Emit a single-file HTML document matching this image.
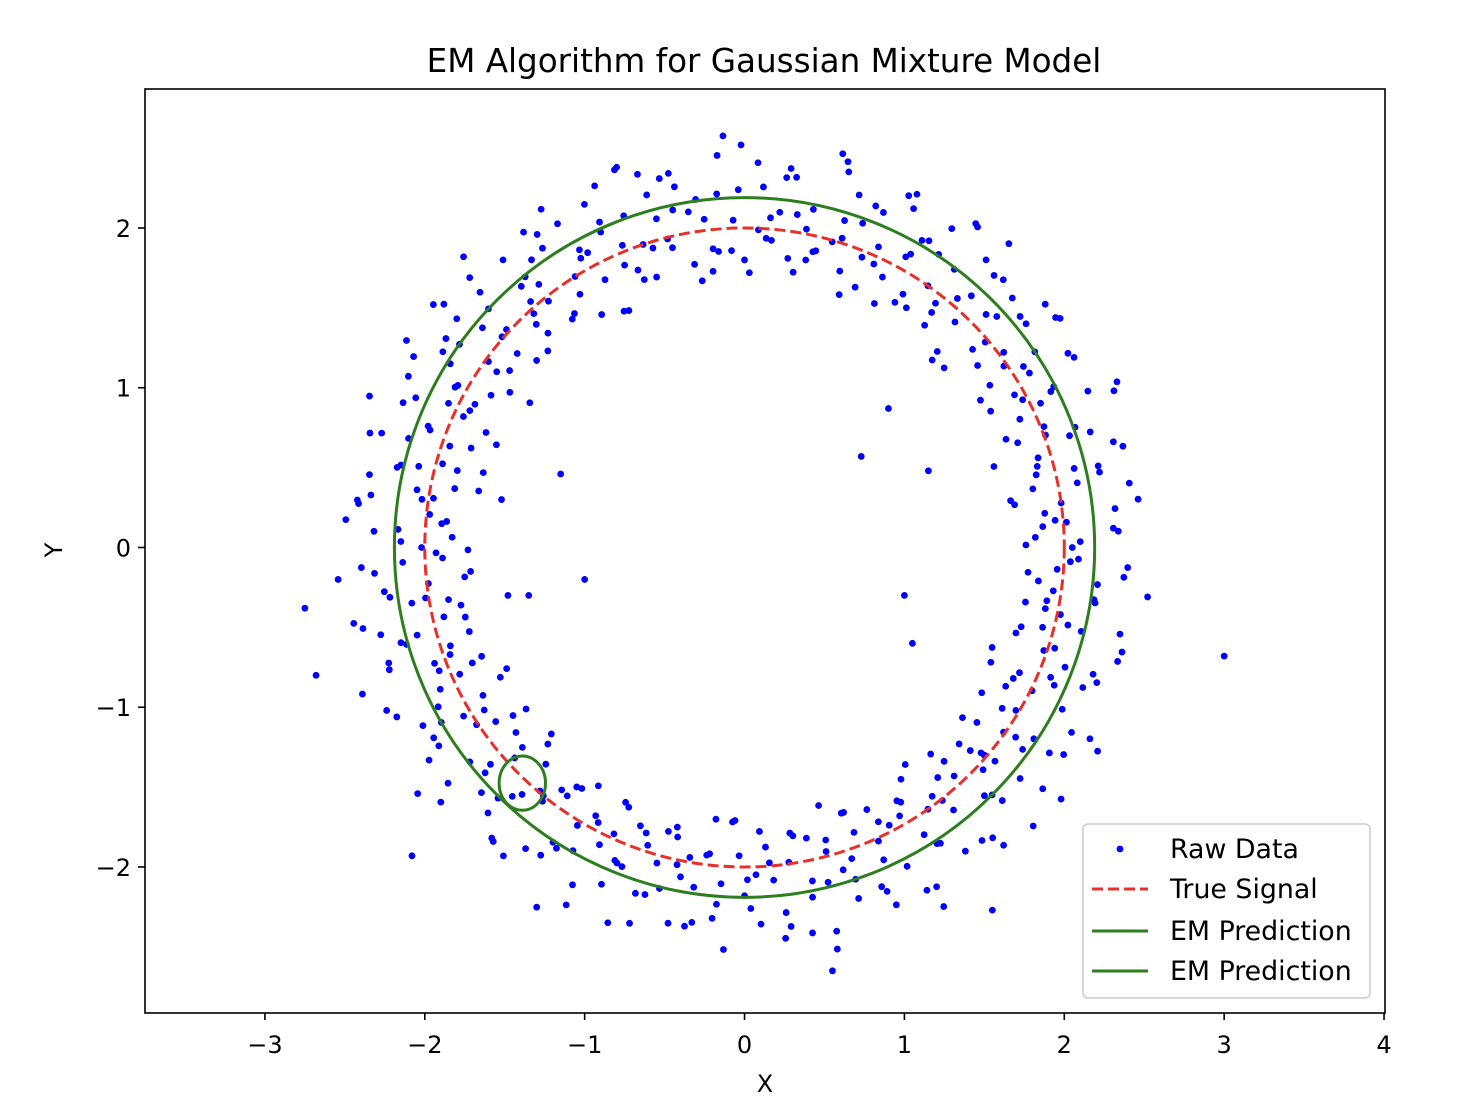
<!DOCTYPE html>
<html><head><meta charset="utf-8"><style>
html,body{margin:0;padding:0;background:#fff;}
svg text{font-family:"DejaVu Sans","Liberation Sans",sans-serif;fill:#000;}
</style></head><body>
<svg id="chart" width="1460" height="1112" viewBox="0 0 1460 1112" xmlns="http://www.w3.org/2000/svg">
<rect x="0" y="0" width="1460" height="1112" fill="#fff"/>
<text x="764" y="72" font-size="32.6" text-anchor="middle">EM Algorithm for Gaussian Mixture Model</text>
<g id="plot"></g>
<text x="765" y="1092" font-size="24" text-anchor="middle">X</text>
<text x="62" y="550" font-size="24" text-anchor="middle" transform="rotate(-90 62 550)">Y</text>
</svg>
<script>
const xTicks=[-3,-2,-1,0,1,2,3,4];
const yTicks=[-2,-1,0,1,2];
const rawAngles=[0,2,3,5,7,9,11,13,14,16,18,20,22,24,25,27,29,31,33,35,36,38,40,42,44,46,47,49,51,53,55,57,58,60,62,64,66,68,69,71,73,75,77,79,80,82,84,86,88,90,91,93,95,97,99,101,102,104,106,108,110,112,113,115,117,119,121,123,124,126,128,130,132,134,135,137,139,141,143,145,146,148,150,152,154,156,157,159,161,163,165,167,168,170,172,174,176,178,179,181,183,185,187,189,190,192,194,196,198,200,201,203,205,207,209,211,212,214,216,218,220,222,223,225,227,229,231,233,234,236,238,240,242,244,245,247,249,251,253,255,256,258,260,262,264,266,267,269,271,273,275,277,278,280,282,284,286,288,289,291,293,295,297,299,300,302,304,306,308,310,311,313,315,317,319,321,322,324,326,328,330,332,333,335,337,339,341,343,344,346,348,350,352,354,355,357,
1,4,6,8,10,12,15,17,19,21,23,26,28,30,32,34,37,39,41,43,45,48,50,52,54,56,59,61,63,65,67,70,72,74,76,78,81,83,85,87,89,92,94,96,98,100,103,105,107,109,111,114,116,118,120,122,125,127,129,131,133,136,138,140,142,144,147,149,151,153,155,158,160,162,164,166,169,171,173,175,177,180,182,184,186,188,191,193,195,197,199,202,204,206,208,210,213,215,217,219,221,224,226,228,230,232,235,237,239,241,243,246,248,250,252,254,257,259,261,263,265,268,270,272,274,276,279,281,283,285,287,290,292,294,296,298,301,303,305,307,309,312,314,316,318,320,323,325,327,329,331,334,336,338,340,342,345,347,349,351,353,356,358,
0.5,2.5,4.5,6.5,9.5,11.5,13.5,15.5,18.5,20.5,22.5,24.5,27.5,29.5,31.5,33.5,36.5,38.5,40.5,42.5,45.5,47.5,49.5,51.5,54.5,56.5,58.5,60.5,63.5,65.5,67.5,69.5,72.5,74.5,76.5,78.5,81.5,83.5,85.5,87.5,90.5,92.5,94.5,96.5,99.5,101.5,103.5,105.5,108.5,110.5,112.5,114.5,117.5,119.5,121.5,123.5,126.5,128.5,130.5,132.5,135.5,137.5,139.5,141.5,144.5,146.5,148.5,150.5,153.5,155.5,157.5,159.5,162.5,164.5,166.5,168.5,171.5,173.5,175.5,177.5,180.5,182.5,184.5,186.5,189.5,191.5,193.5,195.5,198.5,200.5,202.5,204.5,207.5,209.5,211.5,213.5,216.5,218.5,220.5,222.5,225.5,227.5,229.5,231.5,234.5,236.5,238.5,240.5,243.5,245.5,247.5,249.5,252.5,254.5,256.5,258.5,261.5,263.5,265.5,267.5,270.5,272.5,274.5,276.5,279.5,281.5,283.5,285.5,288.5,290.5,292.5,294.5,297.5,299.5,301.5,303.5,306.5,308.5,310.5,312.5,315.5,317.5,319.5,321.5,324.5,326.5,328.5,330.5,333.5,335.5,337.5,339.5,342.5,344.5,346.5,348.5,351.5,353.5,355.5,357.5];
const rawRadii=[2.05,1.82,2.31,1.95,2.48,1.71,2.12,2.27,1.88,2.4,1.64,2.2,2.02,2.55,1.9,2.15,1.76,2.36,2.08,1.98,2.44,1.85,2.25,1.68,2.1,2.33,1.93,2.52,1.79,2.18,2.0,2.38,1.87,2.22,1.73,2.46,2.06,1.96,2.29,1.83,2.14,2.5,1.9,2.03,1.75,2.34,2.11,1.94,2.41,1.8,2.24,2.58,1.86,2.07,1.69,2.3,2.16,1.99,2.43,1.78,2.21,2.04,1.92,2.37,1.66,2.13,2.47,1.89,2.26,1.81,2.09,2.35,1.97,2.53,1.74,2.19,2.01,2.42,1.84,2.28,1.62,2.17,2.39,1.91,2.06,1.77,2.32,2.12,1.95,2.45,1.86,2.23,1.7,2.08,2.36,1.98,2.5,1.83,2.15,1.93,2.4,1.72,2.27,2.02,1.88,2.44,1.8,2.2,2.34,1.96,2.56,1.85,2.1,1.67,2.3,2.05,1.92,2.38,1.79,2.18,2.48,1.87,2.25,1.74,2.13,2.41,2.0,1.9,2.33,1.82,2.22,2.6,1.95,2.07,1.76,2.29,2.14,1.89,2.46,1.84,2.2,2.03,1.97,2.37,1.71,2.11,2.52,1.93,2.26,1.78,2.09,2.39,1.99,2.45,1.86,2.16,1.68,2.31,2.06,1.91,2.43,1.81,2.24,2.57,1.94,2.12,1.75,2.35,2.01,1.88,2.47,1.83,2.19,2.04,1.96,2.4,1.73,2.15,2.3,1.9,2.55,1.85,2.23,1.7,2.08,2.36,1.98,2.44,1.8,2.17,2.02,1.92,
1.95,2.22,1.78,2.4,2.1,1.87,2.33,2.0,1.69,2.27,2.45,1.92,2.15,1.83,2.51,2.06,1.97,2.38,1.74,2.19,2.03,2.42,1.89,2.29,1.66,2.12,2.35,1.94,2.48,1.81,2.24,2.08,1.9,2.43,1.77,2.16,2.32,1.99,2.54,1.84,2.11,2.39,1.93,2.26,1.72,2.05,2.46,1.88,2.2,1.8,2.37,2.13,1.96,2.5,1.86,2.23,1.65,2.09,2.34,2.0,2.41,1.79,2.18,2.04,1.91,2.3,1.75,2.14,2.47,1.98,2.25,1.85,2.07,2.36,1.94,2.53,1.82,2.21,1.7,2.1,2.39,1.97,2.44,1.87,2.17,2.02,1.89,2.32,1.76,2.24,2.49,1.93,2.12,1.8,2.35,2.06,1.95,2.42,1.73,2.19,2.28,1.9,2.56,1.84,2.15,1.68,2.31,2.08,1.99,2.45,1.83,2.2,2.03,1.92,2.37,1.78,2.13,2.5,1.96,2.26,1.86,2.1,2.4,1.94,2.33,1.71,2.18,2.05,1.88,2.46,1.81,2.23,2.58,1.97,2.11,1.77,2.29,2.14,1.91,2.43,1.85,2.21,2.0,1.95,2.36,1.74,2.16,2.51,1.9,2.25,1.82,2.07,2.38,1.98,2.47,1.87,2.12,1.67,2.32,2.04,1.93,2.41,1.79,2.22,2.54,1.96,2.09,1.76,2.34,2.02,1.89,2.44,1.84,
2.12,1.9,2.28,2.01,1.77,2.36,2.18,1.94,2.09,1.84,2.42,2.25,1.98,2.14,1.72,2.31,2.05,1.88,2.49,2.2,1.8,2.11,2.37,1.95,2.27,1.69,2.03,2.44,1.91,2.16,1.83,2.33,2.07,1.99,2.52,1.86,2.22,1.74,2.13,2.39,1.93,2.29,2.0,1.79,2.45,2.17,1.89,2.08,1.71,2.35,2.24,1.97,2.15,1.82,2.41,2.02,1.87,2.3,2.19,1.76,2.48,2.06,1.92,2.26,1.68,2.1,2.38,1.96,2.21,1.85,2.04,2.43,1.9,2.32,1.73,2.14,2.55,1.99,2.11,1.81,2.34,2.23,1.94,2.07,1.78,2.46,2.16,1.88,2.28,2.01,1.7,2.37,2.09,1.95,2.2,1.84,2.42,2.03,1.91,2.31,1.75,2.18,2.5,1.97,2.12,1.86,2.27,2.05,1.8,2.4,2.15,1.93,2.24,1.72,2.08,2.36,1.98,2.3,1.83,2.13,2.47,1.9,2.19,1.77,2.33,2.02,1.96,2.44,1.87,2.22,1.69,2.1,2.39,1.94,2.26,1.82,2.06,2.53,1.99,2.17,1.74,2.35,2.01,1.89,2.29,2.14,1.78,2.45,2.08,1.92,2.21,1.85,2.38,2.04,1.97,2.32,1.71,2.16,2.49,1.91,2.25,1.81,2.11,2.41,1.95];
const outlierX=[3.0,-2.75,-2.68,-1.0,0.73,0.9,1.0,-1.15,-1.52,-1.48,-1.35,1.55,-0.8,0.55,1.5,-2.08,1.15,-1.55,1.05];
const outlierY=[-0.68,-0.38,-0.8,-0.2,0.57,0.87,-0.3,0.46,0.3,-0.3,-0.3,-2.27,2.38,-2.65,-1.3,-1.93,0.48,1.1,-0.6];
const trueRadius=[2];
const emCenterX=[0,-1.39], emCenterY=[0,-1.475], emRx=[2.19,0.145], emRy=[2.19,0.17];
const X0=-3.75,X1=4.006,Y0=-2.914,Y1=2.87,L=145,R=1385,T=89,B=1013;
const sx=v=>L+(v-X0)/(X1-X0)*(R-L), sy=v=>B-(v-Y0)/(Y1-Y0)*(B-T);
const NS='http://www.w3.org/2000/svg';
const svg=document.getElementById('chart'), plot=document.getElementById('plot');
function mk(tag,attrs,parent){const e=document.createElementNS(NS,tag);for(const k in attrs)e.setAttribute(k,attrs[k]);(parent||svg).appendChild(e);return e;}
const dots=mk('g',{},plot);


for(let i=0;i<rawAngles.length;i++){const a=rawAngles[i]*Math.PI/180,r=rawRadii[i%rawRadii.length];
 const c=mk('circle',{cx:sx(r*Math.cos(a)),cy:sy(r*Math.sin(a)),r:3.4,fill:'#0000ff'},dots);
 
 }
for(let i=0;i<outlierX.length;i++){const c=mk('circle',{cx:sx(outlierX[i]),cy:sy(outlierY[i]),r:3.4,fill:'#0000ff'},dots);
 
 }
const ts=mk('ellipse',{cx:sx(0),cy:sy(0),rx:sx(trueRadius[0])-sx(0),ry:sy(0)-sy(trueRadius[0]),fill:'none',stroke:'#e8302a','stroke-width':3,'stroke-dasharray':'11,5'},plot);


for(let i=0;i<emCenterX.length;i++){const e=mk('ellipse',{cx:sx(emCenterX[i]),cy:sy(emCenterY[i]),rx:sx(emRx[i])-sx(0),ry:sy(0)-sy(emRy[i]),fill:'none',stroke:'#2e7d1f','stroke-width':3},plot);
 
 }
const frame=mk('rect',{x:L,y:T,width:R-L,height:B-T,fill:'none',stroke:'#000','stroke-width':1.6});


for(const t of xTicks){const x=sx(t);
 const l=mk('line',{x1:x,x2:x,y1:B,y2:B+7,stroke:'#000','stroke-width':1.6});
 
 
 const tx=mk('text',{x:x,y:B+40,'font-size':24,'text-anchor':'middle'});tx.textContent=(t<0?'\u2212':'')+Math.abs(t);
 
 }
for(const t of yTicks){const y=sy(t);
 const l=mk('line',{x1:L-7,x2:L,y1:y,y2:y,stroke:'#000','stroke-width':1.6});
 
 
 const tx=mk('text',{x:L-14,y:y+9,'font-size':24,'text-anchor':'end'});tx.textContent=(t<0?'\u2212':'')+Math.abs(t);
 
 }
const lg=mk('g',{});


mk('rect',{x:1083,y:824,width:287,height:174,rx:5,fill:'#fff','fill-opacity':0.85,stroke:'#ccc','stroke-width':1.5},lg);
const labels=['Raw Data','True Signal','EM Prediction','EM Prediction'];
const ly=[849,889,931,971];
mk('circle',{cx:1120,cy:ly[0],r:3.4,fill:'#0000ff'},lg);
mk('line',{x1:1092,x2:1148,y1:ly[1],y2:ly[1],stroke:'#e8302a','stroke-width':3,'stroke-dasharray':'11,5'},lg);
mk('line',{x1:1092,x2:1148,y1:ly[2],y2:ly[2],stroke:'#2e7d1f','stroke-width':3},lg);
mk('line',{x1:1092,x2:1148,y1:ly[3],y2:ly[3],stroke:'#2e7d1f','stroke-width':3},lg);
for(let i=0;i<4;i++){const t=mk('text',{x:1170,y:ly[i]+9,'font-size':26.8},lg);t.textContent=labels[i];
 
 }
</script>
</body></html>
